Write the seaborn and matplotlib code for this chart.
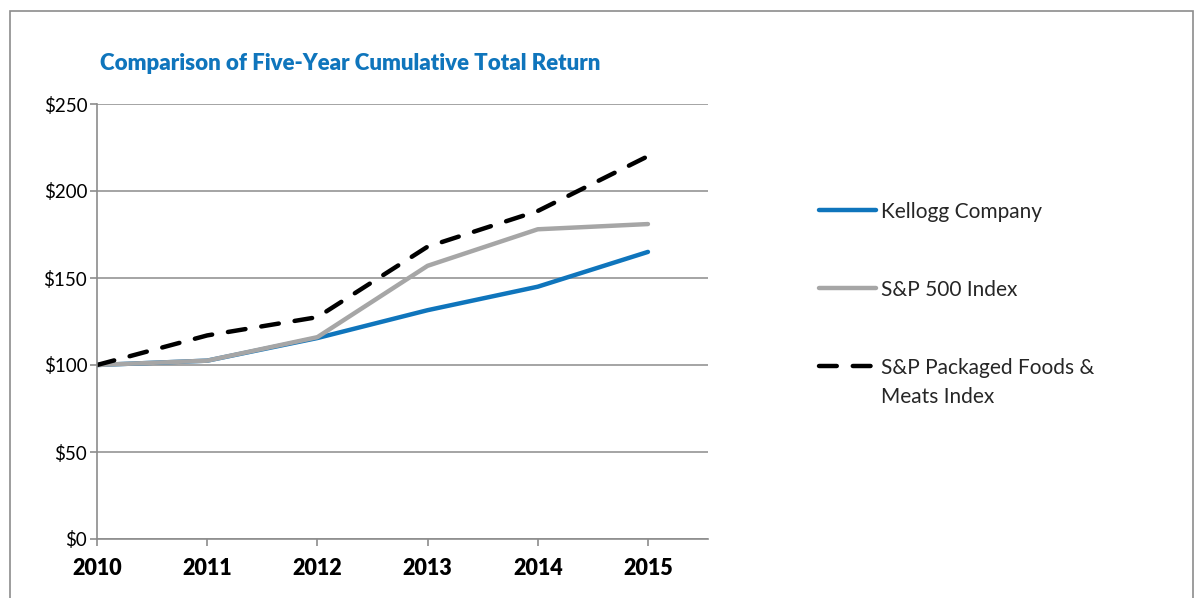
import pandas as pd
import numpy as np
import matplotlib.pyplot as plt
import matplotlib.patches as mpatches
import seaborn as sns

# values (index, 2010 = $100)
years = [2010, 2011, 2012, 2013, 2014, 2015]
kellogg = [100, 102.5, 115.5, 131.5, 145, 165]
sp500 = [100, 102.5, 116, 157, 178, 181]
packaged = [100, 117, 127.5, 168, 188.5, 220]

labels = ['Kellogg Company', 'S&P 500 Index', 'S&P Packaged Foods &']
label_extra = 'Meats Index'

df = pd.DataFrame({
    'Year': years * 3,
    'Value': kellogg + sp500 + packaged,
    'Series': [labels[0]] * 6 + [labels[1]] * 6 + [labels[2]] * 6,
})

sns.set_theme(style='white')
plt.rcParams['font.family'] = ['Lato', 'DejaVu Sans']

fig = plt.figure(figsize=(11.95, 5.98), dpi=100)
ax = fig.add_axes([97 / 1195, 59 / 598, 611 / 1195, 435 / 598])

# outer frame of the chart area
fig.patches.append(mpatches.Rectangle((10 / 1195, -0.1), 1183 / 1195, (587 / 598) + 0.1,
                                      transform=fig.transFigure, fill=False,
                                      edgecolor='#8c8c8c', linewidth=1.2))

palette = {labels[0]: '#0F75BC', labels[1]: '#A6A6A6', labels[2]: '#000000'}
dashes = {labels[0]: '', labels[1]: '', labels[2]: (4.0, 3.6)}
sns.lineplot(data=df, x='Year', y='Value', hue='Series', style='Series',
             palette=palette, dashes=dashes, linewidth=3.2, ax=ax, legend=False)
for line in ax.lines:
    line.set_dash_capstyle('round')
    line.set_solid_capstyle('round')

ax.set_xlim(2010, 2015.545)
ax.set_ylim(0, 250)
ax.set_yticks(range(0, 251, 50))
ax.set_yticklabels([f'${v}' for v in range(0, 251, 50)], fontsize=13.5)
ax.set_xticks(years)
ax.set_xticklabels([str(y) for y in years], fontsize=15.5, fontweight='heavy')
ax.set_xlabel('')
ax.set_ylabel('')

ax.grid(axis='y', color='#8c8c8c', linewidth=1.1)
ax.set_axisbelow(True)
for s in ['top', 'right']:
    ax.spines[s].set_visible(False)
for s in ['left', 'bottom']:
    ax.spines[s].set_color('#8c8c8c')
    ax.spines[s].set_linewidth(1.2)
ax.tick_params(axis='both', which='both', direction='out', length=5, width=1.2,
               color='#8c8c8c', left=True, bottom=True, labelcolor='black')
ax.tick_params(axis='y', pad=2)
ax.tick_params(axis='x', pad=9)

fig.text(100 / 1195, 1 - 64 / 598, 'Comparison of Five-Year Cumulative Total Return',
         color='#0F75BC', fontsize=16, fontweight='heavy', va='center', ha='left')

handles = ax.lines[:3]
leg = fig.legend(handles, labels, loc='upper left', bbox_to_anchor=(800 / 1195, 1 - 183 / 598),
                 frameon=False, fontsize=15, labelspacing=2.78, handlelength=2.75,
                 handletextpad=0.25)

# second line of the last legend label
fig.canvas.draw()
bb = leg.get_texts()[2].get_window_extent()
fig.text(bb.x0 / 1195, (bb.y0 - 29) / 598, label_extra, fontsize=15,
         ha='left', va='bottom', color=leg.get_texts()[2].get_color())

fig.savefig('out.png', dpi=100)
